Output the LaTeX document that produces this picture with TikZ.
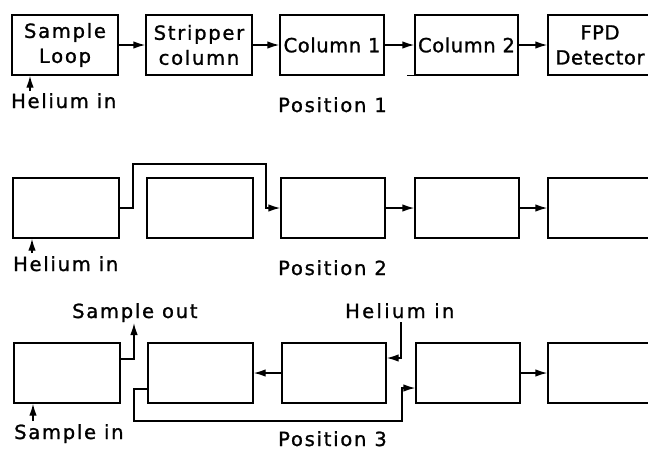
\documentclass[tikz,border=0pt]{standalone}
\usepackage{fontspec}
\setmainfont{DejaVu Sans}[LetterSpace=9.0, FakeBold=1.2]
\usetikzlibrary{arrows.meta}
\tikzset{
  box/.style={draw, line width=1.4pt, minimum height=60pt, minimum width=105pt, inner sep=0pt, align=center},
  arr/.style={line width=1.4pt, -{Latex[length=12pt,width=7.5pt]}},
  ln/.style={line width=1.4pt},
  lbl/.style={inner sep=0pt, anchor=base west},
  narrow/.style={font=\fontsize{19.5pt}{25pt}\selectfont\addfontfeature{LetterSpace=3.0}},
  wide/.style={font=\fontsize{19.5pt}{25pt}\selectfont\addfontfeature{LetterSpace=12.0}}
}
\begin{document}
\begin{tikzpicture}[x=1pt,y=-1pt,font=\fontsize{19.5pt}{25pt}\selectfont]
\clip (0,0) rectangle (648,450);
% ---- Position 1
\node[box, minimum width=106pt] (r1b1) at (65,45) {Sample\\Loop};
\node[box, minimum width=106pt] (r1b2) at (199,45) {Stripper\\column};
\node[box, narrow, minimum width=104pt] (r1b3) at (332,45) {Column 1};
\node[box, narrow, minimum width=103pt] (r1b4) at (466.5,45) {Column 2};
\node[box, narrow, minimum width=104pt] (r1b5) at (600,45) {FPD\\Detector};
\draw[arr] (r1b1) -- (r1b2);
\draw[arr] (r1b2) -- (r1b3);
\draw[arr] (r1b3) -- (r1b4);
\draw[arr] (r1b4) -- (r1b5);
\draw[ln] (r1b4.south west) -- ++(-7,0);
\node[lbl] (he1) at (11,108) {Helium in};
\coordinate (hin1) at (30,91);
\draw[arr] (hin1) -- (hin1 |- r1b1.south);
\node[lbl] (pos1) at (278,112) {Position 1};
% ---- Position 2
\node[box, minimum width=106pt] (r2b1) at (66,208) {};
\node[box, minimum width=106pt] (r2b2) at (200,208) {};
\node[box, minimum width=104pt] (r2b3) at (333,208) {};
\node[box, minimum width=104pt] (r2b4) at (467,208) {};
\node[box, minimum width=104pt] (r2b5) at (600,208) {};
\coordinate (p2a) at (133,164);
\coordinate (p2b) at (266,164);
\draw[arr] (r2b1.east) -| (p2a) -- (p2b) |- (r2b3.west);
\draw[arr] (r2b3) -- (r2b4);
\draw[arr] (r2b4) -- (r2b5);
\node[lbl] (he2) at (13,271) {Helium in};
\coordinate (hin2) at (32,253);
\draw[arr] (hin2) -- (hin2 |- r2b1.south);
\node[lbl] (pos2) at (278,275) {Position 2};
% ---- Position 3
\node[box, minimum width=106pt] (r3b1) at (67,373) {};
\node[box, minimum width=105pt] (r3b2) at (200.5,373) {};
\node[box, minimum width=104pt] (r3b3) at (334,373) {};
\node[box, minimum width=104pt] (r3b4) at (468,373) {};
\node[box, minimum width=104pt] (r3b5) at (600,373) {};
\node[lbl] (so) at (72,318) {Sample out};
\coordinate (sot) at (134,323);
\draw[arr] ([yshift=14pt]r3b1.east) -| (sot);
\draw[arr] (r3b3) -- (r3b2);
\node[lbl, wide] (he3) at (345,318) {Helium in};
\coordinate (hin3) at (401,322);
\draw[arr] (hin3) |- ([yshift=15pt]r3b3.east);
\coordinate (l1) at (134,421);
\coordinate (l2) at (402,421);
\draw[arr] ([yshift=-16pt]r3b2.west) -| (l1) -- (l2) |- ([yshift=-15pt]r3b4.west);
\draw[arr] (r3b4) -- (r3b5);
\node[lbl] (si) at (14,439) {Sample in};
\coordinate (sin) at (33,421);
\draw[arr] (sin) -- (sin |- r3b1.south);
\node[lbl] (pos3) at (278,446) {Position 3};
\end{tikzpicture}
\end{document}
